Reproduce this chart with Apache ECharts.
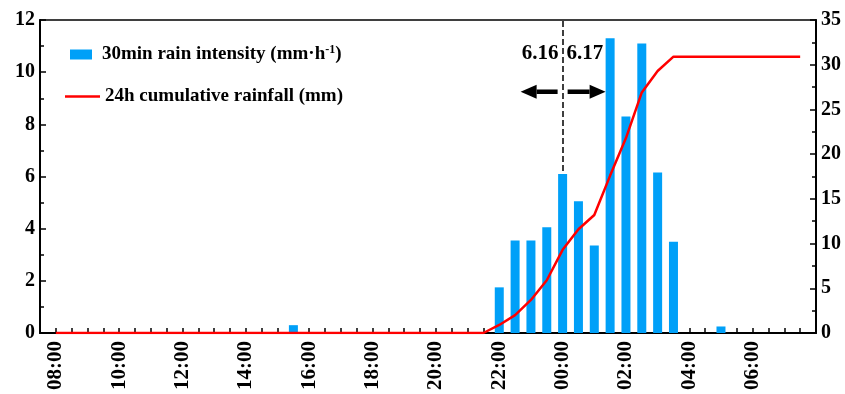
<!DOCTYPE html>
<html>
<head>
<meta charset="utf-8">
<script src="https://cdn.jsdelivr.net/npm/echarts@6/dist/echarts.min.js"></script>
<style>
  html, body { margin: 0; padding: 0; background: #fff; }
  #chart { width: 845px; height: 394px; }
</style>
</head>
<body>
<div id="chart"></div>
<script>
// 30-minute steps, 07:30 on 6.16 to 08:00 on 6.17
const times = [
  "07:30", "08:00", "08:30", "09:00", "09:30", "10:00", "10:30", "11:00", "11:30", "12:00",
  "12:30", "13:00", "13:30", "14:00", "14:30", "15:00", "15:30", "16:00", "16:30", "17:00",
  "17:30", "18:00", "18:30", "19:00", "19:30", "20:00", "20:30", "21:00", "21:30", "22:00",
  "22:30", "23:00", "23:30", "00:00", "00:30", "01:00", "01:30", "02:00", "02:30", "03:00",
  "03:30", "04:00", "04:30", "05:00", "05:30", "06:00", "06:30", "07:00", "07:30", "08:00 "
];

// labelled times on the x axis
const tickLabels = ["08:00", "10:00", "12:00", "14:00", "16:00", "18:00", "20:00", "22:00", "00:00", "02:00", "04:00", "06:00"];

// 30min rain intensity (mm/h)
const intensity = [
  null, null, null, null, null, null, null, null, null, null,
  null, null, null, null, null, null, 0.3, null, null, null,
  null, null, null, null, null, null, null, null, null, 1.75,
  3.55, 3.55, 4.05, 6.1, 5.05, 3.35, 11.3, 8.3, 11.1, 6.15,
  3.5, null, null, 0.25, null, null, null, null, null, null
];

// 24h cumulative rainfall (mm)
const cumulative = [
  null, 0, 0, 0, 0, 0, 0, 0, 0, 0,
  0, 0, 0, 0, 0, 0, 0, 0, 0, 0,
  0, 0, 0, 0, 0, 0, 0, 0, 0, 0.9,
  2.0, 3.7, 5.9, 9.3, 11.6, 13.2, 17.6, 21.8, 26.9, 29.3,
  30.9, 30.9, 30.9, 30.9, 30.9, 30.9, 30.9, 30.9, 30.9, null
];

const leftTicks = { min: 0, max: 12, interval: 2 };
const rightTicks = { min: 0, max: 35, interval: 5 };
const dayBreak = "00:00";
const dayLabels = ["6.16", "6.17"];

const serif = "'Liberation Serif', 'DejaVu Serif', serif";
const barName = "30min rain intensity (mm·h-1)";
const lineName = "24h cumulative rainfall (mm)";

const axisText = { color: "#000", fontFamily: serif, fontWeight: "bold", fontSize: 20 };

function yAxis(ticks, position) {
  return {
    type: "value",
    position,
    min: ticks.min,
    max: ticks.max,
    interval: ticks.interval,
    axisLine: { show: true, lineStyle: { color: "#000", width: 2 } },
    axisTick: { show: true, inside: true, length: 6, lineStyle: { color: "#000", width: 1.5 } },
    minorTick: { show: true, splitNumber: 2, length: 4, lineStyle: { color: "#000", width: 1.5 } },
    splitLine: { show: false },
    axisLabel: { ...axisText, margin: 5 },
  };
}

const chart = echarts.init(document.getElementById("chart"), null, { renderer: "canvas" });

chart.setOption({
  animation: false,
  backgroundColor: "#fff",
  grid: { left: 40, right: 29, top: 20, bottom: 61, show: true, borderColor: "#000", borderWidth: 1.5 },
  legend: [
    {
      data: [barName],
      left: 65,
      top: 39,
      itemWidth: 22,
      itemHeight: 10,
      icon: "rect",
      formatter: () => "30min rain intensity (mm·h{sup|-1})",
      textStyle: {
        color: "#000", fontFamily: serif, fontWeight: "bold", fontSize: 19, padding: [0, 0, 0, 5],
        rich: { sup: { color: "#000", fontFamily: serif, fontWeight: "bold", fontSize: 12, verticalAlign: "top", padding: [0, 0, 9, 0] } },
      },
    },
    {
      data: [lineName],
      left: 60,
      top: 82,
      itemWidth: 35,
      itemHeight: 2.5,
      icon: "rect",
      itemStyle: { color: "#ff0000" },
      textStyle: { color: "#000", fontFamily: serif, fontWeight: "bold", fontSize: 19 },
    },
  ],
  xAxis: {
    type: "category",
    data: times,
    boundaryGap: false,
    axisLine: { lineStyle: { color: "#000", width: 2 } },
    axisTick: { inside: true, length: 5, interval: 0, lineStyle: { color: "#000", width: 1.5 } },
    axisLabel: { ...axisText, fontSize: 21, rotate: 90, margin: 8, interval: (i, v) => tickLabels.includes(v) },
    splitLine: { show: false },
  },
  yAxis: [yAxis(leftTicks, "left"), yAxis(rightTicks, "right")],
  series: [
    {
      name: barName,
      type: "bar",
      yAxisIndex: 0,
      data: intensity,
      barWidth: 9,
      z: 2,
      itemStyle: { color: "#00a0f8" },
      markLine: {
        z: 1,
        silent: true,
        symbol: "none",
        label: { show: false },
        lineStyle: { color: "#000", type: [6, 3], width: 1.5 },
        data: [{ xAxis: dayBreak }],
      },
    },
    {
      name: lineName,
      type: "line",
      yAxisIndex: 1,
      data: cumulative,
      symbol: "none",
      z: 3,
      lineStyle: { color: "#ff0000", width: 2.5 },
      itemStyle: { color: "#ff0000" },
    },
  ],
});

// day divider labels and arrows, placed from the axis scales
const cx = chart.convertToPixel({ xAxisIndex: 0 }, dayBreak);
const textY = chart.convertToPixel({ yAxisIndex: 0 }, 10.7);
const arrowY = chart.convertToPixel({ yAxisIndex: 0 }, 9.25);
const labelFont = { fill: "#000", fontFamily: serif, fontWeight: "bold", fontSize: 21, verticalAlign: "middle" };

function arrow(tip, base, tail) {
  return [
    { type: "line", shape: { x1: base, y1: arrowY, x2: tail, y2: arrowY }, style: { stroke: "#000", lineWidth: 4.5 } },
    { type: "polygon", shape: { points: [[tip, arrowY], [base, arrowY - 7], [base, arrowY + 7]] }, style: { fill: "#000" } },
  ];
}

chart.setOption({
  graphic: [
    { type: "text", x: cx - 4, y: textY, style: { ...labelFont, text: dayLabels[0], align: "right" } },
    { type: "text", x: cx + 4, y: textY, style: { ...labelFont, text: dayLabels[1], align: "left" } },
    ...arrow(cx - 42, cx - 26, cx - 5),
    ...arrow(cx + 43, cx + 27, cx + 5),
  ],
});
</script>
</body>
</html>
